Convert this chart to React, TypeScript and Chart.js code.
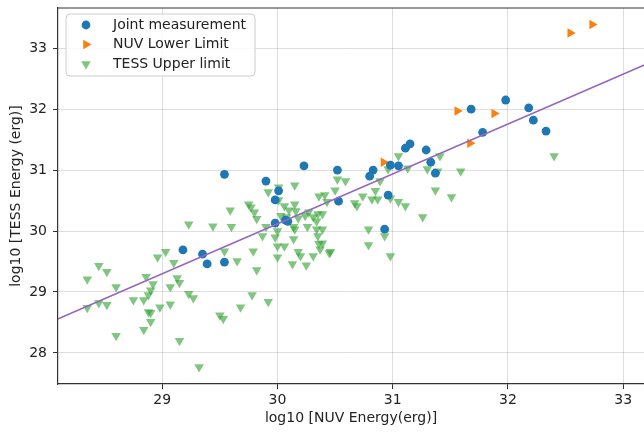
import React, { useEffect, useRef } from "react";
import { Chart, registerables } from "chart.js";

Chart.register(...registerables);

// ---- Data (log10 energies, erg) ----
const jointX = [29.54, 30.23, 29.90, 30.01, 29.98, 31.68, 31.98, 32.18, 32.22, 32.33, 31.78, 31.15, 31.11, 31.29, 31.33, 31.37, 30.98, 31.05, 30.83, 30.80, 30.52, 30.96, 30.53, 30.93, 29.18, 29.35, 29.39, 29.54, 29.98, 30.07, 30.09];
const jointY = [30.93, 31.07, 30.82, 30.66, 30.51, 32.00, 32.15, 32.02, 31.82, 31.64, 31.62, 31.43, 31.36, 31.33, 31.13, 30.95, 31.08, 31.07, 31.00, 30.90, 31.00, 30.59, 30.49, 30.03, 29.69, 29.62, 29.46, 29.49, 30.13, 30.18, 30.16];

const nuvX = [32.54, 32.73, 31.56, 31.88, 31.67, 30.92];
const nuvY = [33.25, 33.39, 31.97, 31.93, 31.44, 31.13];

const tessX = [28.35, 28.45, 28.52, 28.60, 28.35, 28.45, 28.52, 28.60, 28.75, 28.84, 28.86, 28.92, 28.90, 28.88, 28.96, 29.03, 29.10, 29.13, 29.15, 29.07, 28.98, 29.07, 28.88, 28.90, 28.90, 28.84, 29.15, 29.23, 29.27, 29.32, 29.23, 29.44, 29.60, 29.54, 29.65, 29.79, 29.82, 29.78, 29.68, 29.92, 29.50, 29.53, 29.59, 30.01, 29.92, 30.15, 29.75, 29.77, 29.80, 29.82, 29.87, 29.90, 30.00, 29.98, 30.00, 30.06, 30.00, 30.14, 30.14, 30.01, 30.06, 30.10, 30.15, 30.16, 30.03, 30.08, 30.18, 30.13, 30.25, 30.18, 30.20, 30.31, 30.46, 30.37, 30.36, 30.35, 30.34, 30.26, 30.15, 30.24, 30.31, 30.34, 30.35, 30.39, 30.27, 30.39, 30.39, 30.45, 30.52, 30.59, 30.50, 30.36, 30.41, 30.43, 30.67, 30.69, 30.74, 30.82, 30.85, 30.87, 30.79, 30.79, 30.93, 30.98, 31.05, 31.13, 30.96, 30.89, 31.30, 31.39, 31.41, 31.59, 30.98, 31.05, 31.11, 31.37, 31.51, 31.26, 32.40];
const tessY = [29.21, 29.43, 29.33, 29.08, 28.74, 28.82, 28.79, 28.28, 28.87, 28.87, 29.25, 29.13, 29.03, 28.95, 29.57, 29.66, 29.48, 29.23, 29.15, 29.08, 28.75, 28.80, 28.67, 28.66, 28.51, 28.38, 28.20, 28.97, 28.90, 27.77, 30.11, 30.08, 30.07, 29.67, 29.51, 29.67, 29.36, 28.95, 28.75, 28.84, 28.62, 28.56, 30.34, 30.72, 30.64, 30.75, 30.44, 30.39, 30.31, 30.20, 29.92, 30.07, 30.00, 29.90, 29.75, 29.75, 29.57, 29.87, 30.07, 30.51, 30.41, 30.34, 30.44, 30.33, 30.25, 30.23, 30.21, 29.46, 29.44, 29.66, 29.59, 29.59, 29.66, 29.70, 29.79, 29.92, 30.03, 30.07, 30.03, 30.25, 30.23, 30.16, 30.28, 30.28, 30.31, 30.03, 29.80, 29.64, 30.85, 30.82, 30.67, 30.57, 30.59, 30.48, 30.46, 30.41, 30.57, 30.52, 30.66, 30.52, 30.03, 29.77, 29.92, 29.59, 31.23, 31.03, 31.02, 30.82, 31.02, 30.98, 31.23, 30.98, 30.54, 30.48, 30.41, 30.67, 30.56, 30.23, 31.23];

// Linear fit
const fitSlope = 0.819;
const fitIntercept = 5.55;

const xTicks = [29, 30, 31, 32, 33];
const yTicks = [28, 29, 30, 31, 32, 33];
const xRange = [28.096, 33.18];
const yRange = [27.49, 33.66];

const legendLabels = ["Joint measurement", "NUV Lower Limit", "TESS Upper limit"];

const BLUE = "#1f77b4";
const ORANGE = "#ff7f0e";
const GREEN = "rgba(44,160,44,0.6)";
const PURPLE = "#9467bd";
const FONT = "'DejaVu Sans', sans-serif";

function pts(xs: number[], ys: number[]) {
  return xs.map((x, i) => ({ x, y: ys[i] }));
}

function drawMarker(ctx: CanvasRenderingContext2D, kind: string, x: number, y: number, color: string) {
  ctx.fillStyle = color;
  ctx.beginPath();
  if (kind === "circle") {
    ctx.arc(x, y, 4.4, 0, Math.PI * 2);
  } else {
    const r = 5.5;
    let rad = ((kind === "right" ? 90 : 180) * Math.PI) / 180;
    for (let k = 0; k < 3; k++) {
      const px = x + Math.sin(rad) * r;
      const py = y - Math.cos(rad) * r;
      if (k === 0) ctx.moveTo(px, py);
      else ctx.lineTo(px, py);
      rad += (2 * Math.PI) / 3;
    }
    ctx.closePath();
  }
  ctx.fill();
}

const framePlugin = {
  id: "frameAndLegend",
  afterDraw(chart: any) {
    const ctx: CanvasRenderingContext2D = chart.ctx;
    const { left, top, right } = chart.chartArea;
    ctx.save();
    // top spine
    ctx.strokeStyle = "#333";
    ctx.lineWidth = 1.2;
    ctx.beginPath();
    ctx.moveTo(left, top);
    ctx.lineTo(right, top);
    ctx.stroke();

    // legend box
    const x0 = left + 8;
    const y0 = top + 6;
    const w = 189;
    const h = 62;
    const r = 4;
    ctx.beginPath();
    ctx.moveTo(x0 + r, y0);
    ctx.lineTo(x0 + w - r, y0);
    ctx.quadraticCurveTo(x0 + w, y0, x0 + w, y0 + r);
    ctx.lineTo(x0 + w, y0 + h - r);
    ctx.quadraticCurveTo(x0 + w, y0 + h, x0 + w - r, y0 + h);
    ctx.lineTo(x0 + r, y0 + h);
    ctx.quadraticCurveTo(x0, y0 + h, x0, y0 + h - r);
    ctx.lineTo(x0, y0 + r);
    ctx.quadraticCurveTo(x0, y0, x0 + r, y0);
    ctx.closePath();
    ctx.fillStyle = "rgba(255,255,255,0.85)";
    ctx.fill();
    ctx.strokeStyle = "#cccccc";
    ctx.lineWidth = 1;
    ctx.stroke();

    const kinds = ["circle", "right", "down"];
    const colors = [BLUE, ORANGE, GREEN];
    ctx.font = `14px ${FONT}`;
    ctx.textBaseline = "middle";
    ctx.textAlign = "left";
    for (let i = 0; i < 3; i++) {
      const cy = y0 + 11 + i * 19.5;
      drawMarker(ctx, kinds[i], x0 + 20, cy, colors[i]);
      ctx.fillStyle = "#222";
      ctx.fillText(legendLabels[i], x0 + 47, cy);
    }
    ctx.restore();
  },
};

export default function App() {
  const ref = useRef<HTMLCanvasElement | null>(null);

  useEffect(() => {
    if (!ref.current) return;
    const fitData = [xRange[0] - 1, xRange[1] + 1].map((x) => ({ x, y: fitSlope * x + fitIntercept }));
    const gridCommon = {
      color: "rgba(0,0,0,0.13)",
      lineWidth: 1,
      borderDash: [1.5, 2.5],
      tickColor: "#333",
      tickLength: 5,
      tickWidth: 1,
      tickBorderDash: [],
      drawTicks: true,
    };
    const chart = new Chart(ref.current, {
      type: "scatter",
      data: {
        datasets: [
          {
            type: "line",
            label: "fit",
            data: fitData,
            borderColor: PURPLE,
            borderWidth: 1.6,
            pointRadius: 0,
            fill: false,
            order: 0,
          } as any,
          {
            label: legendLabels[0],
            data: pts(jointX, jointY),
            backgroundColor: BLUE,
            borderColor: BLUE,
            borderWidth: 0,
            pointStyle: "circle",
            pointRadius: 4.4,
            order: 1,
          },
          {
            label: legendLabels[1],
            data: pts(nuvX, nuvY),
            backgroundColor: ORANGE,
            borderColor: ORANGE,
            borderWidth: 0,
            pointStyle: "triangle",
            rotation: 90,
            pointRadius: 5.5,
            order: 2,
          },
          {
            label: legendLabels[2],
            data: pts(tessX, tessY),
            backgroundColor: GREEN,
            borderColor: GREEN,
            borderWidth: 0,
            pointStyle: "triangle",
            rotation: 180,
            pointRadius: 5.5,
            order: 3,
          },
        ],
      },
      options: {
        animation: false,
        responsive: false,
        maintainAspectRatio: false,
        layout: { autoPadding: false, padding: { top: 8, left: 0, right: 0, bottom: 0 } },
        plugins: { legend: { display: false }, tooltip: { enabled: false } },
        scales: {
          x: {
            type: "linear",
            min: xRange[0],
            max: xRange[1],
            afterBuildTicks: (s: any) => {
              s.ticks = xTicks.map((v) => ({ value: v }));
            },
            afterFit: (s: any) => {
              s.height = 48;
              s.paddingLeft = 0;
              s.paddingRight = 0;
              s.paddingTop = 0;
              s.paddingBottom = 0;
            },
            ticks: {
              padding: 3,
              color: "#222",
              font: { family: FONT, size: 14 },
              callback: (v: any) => String(v),
              maxRotation: 0,
            },
            grid: gridCommon,
            border: { display: true, color: "#333", width: 1.2 },
            title: {
              display: true,
              text: "log10 [NUV Energy(erg)]",
              color: "#222",
              font: { family: FONT, size: 14 },
              padding: { top: 5, bottom: 5 },
            },
          },
          y: {
            type: "linear",
            min: yRange[0],
            max: yRange[1],
            afterBuildTicks: (s: any) => {
              s.ticks = yTicks.map((v) => ({ value: v }));
            },
            afterFit: (s: any) => {
              s.width = 58;
              s.paddingLeft = 0;
              s.paddingRight = 0;
              s.paddingTop = 0;
              s.paddingBottom = 0;
            },
            ticks: {
              padding: 6,
              color: "#222",
              font: { family: FONT, size: 14 },
              callback: (v: any) => String(v),
            },
            grid: gridCommon,
            border: { display: true, color: "#333", width: 1.2 },
            title: {
              display: true,
              text: "log10 [TESS Energy (erg)]",
              color: "#222",
              font: { family: FONT, size: 14 },
              padding: { top: 8, bottom: 8 },
            },
          },
        },
      },
      plugins: [framePlugin],
    } as any);
    return () => chart.destroy();
  }, []);

  return (
    <div style={{ position: "fixed", left: 0, top: 0, width: 644, height: 432, overflow: "hidden", background: "#fff" }}>
      <canvas ref={ref} width={644} height={432} style={{ width: 644, height: 432, display: "block" }} />
    </div>
  );
}
